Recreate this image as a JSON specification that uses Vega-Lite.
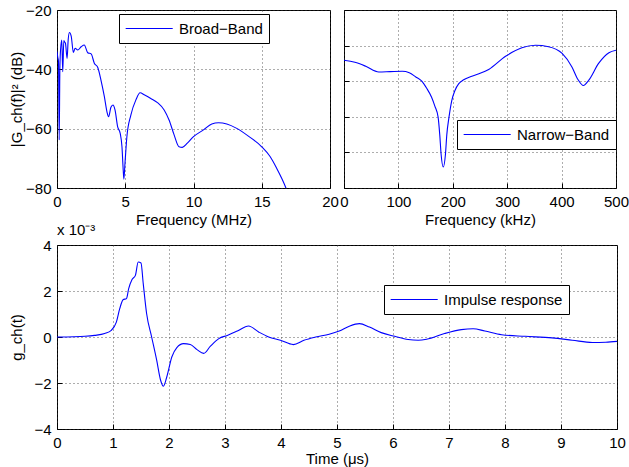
{
  "$schema": "https://vega.github.io/schema/vega-lite/v6.json",
  "background": "white",
  "padding": {"left": 8, "top": 2, "right": 0, "bottom": 2},
  "spacing": -6,
  "resolve": {"scale": {"color": "independent"}, "legend": {"color": "independent"}},
  "config": {
    "font": "Liberation Sans",
    "view": {"stroke": "black", "strokeWidth": 1},
    "axis": {
      "domain": false, "grid": true, "gridColor": "#333", "gridDash": [1, 3], "gridOpacity": 0.8,
      "labelFontSize": 15, "titleFontSize": 15, "titleFontWeight": "normal",
      "labelColor": "black", "titleColor": "black", "tickColor": "black",
      "tickSize": -5, "labelPadding": 11, "labelFlush": false, "labelOverlap": false, "titlePadding": 3
    },
    "axisLeft": {"minExtent": 33, "maxExtent": 33, "titlePadding": 0},
    "legend": {
      "orient": "none", "title": null, "symbolType": "M-1,0H5", "symbolSize": 246, "symbolStrokeWidth": 1.2,
      "labelFontSize": 15, "labelColor": "black", "strokeColor": "black", "fillColor": "white", "padding": 6, "labelOffset": 37
    }
  },
  "vconcat": [
    {
      "hconcat": [
        {
          "width": 273, "height": 178,
          "data": {"values": [
            {"f":0.0,"db":-34.0},{"f":0.06,"db":-36.0},{"f":0.11,"db":-37.4},{"f":0.16,"db":-63.8},{"f":0.21,"db":-40},{"f":0.26,"db":-33.5},{"f":0.35,"db":-30.1},{"f":0.42,"db":-40.8},{"f":0.5,"db":-30.3},{"f":0.56,"db":-30.8},{"f":0.62,"db":-31.2},{"f":0.74,"db":-36.3},{"f":0.82,"db":-30},{"f":0.91,"db":-27.6},{"f":1.04,"db":-28.8},{"f":1.2,"db":-34.3},{"f":1.33,"db":-32.9},{"f":1.52,"db":-33.5},{"f":1.77,"db":-32.4},{"f":2.0,"db":-31.8},{"f":2.25,"db":-34.4},{"f":2.5,"db":-34.8},{"f":2.74,"db":-38.0},{"f":2.98,"db":-39.3},{"f":3.22,"db":-43.6},{"f":3.47,"db":-49.2},{"f":3.66,"db":-54.3},{"f":3.78,"db":-56.0},{"f":3.95,"db":-52.8},{"f":4.1,"db":-52.0},{"f":4.25,"db":-53.7},{"f":4.44,"db":-59.3},{"f":4.63,"db":-61.6},{"f":4.76,"db":-66.1},{"f":4.85,"db":-73.9},{"f":4.9,"db":-77.0},{"f":4.98,"db":-71.7},{"f":5.12,"db":-62.7},{"f":5.41,"db":-55.4},{"f":5.78,"db":-50.3},{"f":6.09,"db":-47.9},{"f":6.39,"db":-48.6},{"f":6.87,"db":-49.8},{"f":7.36,"db":-51.2},{"f":7.85,"db":-53.7},{"f":8.21,"db":-57.1},{"f":8.58,"db":-62.1},{"f":8.94,"db":-66.1},{"f":9.18,"db":-66.3},{"f":9.55,"db":-64.9},{"f":10.0,"db":-62.7},{"f":10.73,"db":-60.4},{"f":11.34,"db":-58.4},{"f":11.83,"db":-58.0},{"f":12.44,"db":-58.4},{"f":13.17,"db":-59.9},{"f":14.02,"db":-62.5},{"f":15.0,"db":-66.1},{"f":15.61,"db":-69.4},{"f":16.1,"db":-73.4},{"f":16.46,"db":-76.7},{"f":16.78,"db":-80.1},{"f":17.0,"db":-83}
          ]},
          "mark": {"type": "line", "clip": true, "strokeWidth": 1.1, "interpolate": "monotone"},
          "encoding": {
            "x": {"field": "f", "type": "quantitative", "scale": {"domain": [0, 20], "nice": false}, "axis": {"values": [0, 5, 10, 15, 20], "title": "Frequency (MHz)"}},
            "y": {"field": "db", "type": "quantitative", "scale": {"domain": [-80, -20], "nice": false}, "axis": {"values": [-80, -60, -40, -20], "title": "|G_ch(f)|² (dB)"}},
            "color": {"datum": "Broad−Band", "type": "nominal", "scale": {"range": ["#0000ff"]}, "legend": {"legendX": 62, "legendY": 4}}
          }
        },
        {
          "width": 272, "height": 178,
          "data": {"values": [
            {"f":0,"db":-24.1},{"f":20,"db":-24.7},{"f":40,"db":-25.8},{"f":64,"db":-27.4},{"f":85,"db":-27.3},{"f":107,"db":-27.2},{"f":120,"db":-27.6},{"f":132,"db":-28.8},{"f":143,"db":-30.0},{"f":152,"db":-32.0},{"f":161,"db":-34.5},{"f":167,"db":-37.0},{"f":173,"db":-40.1},{"f":176,"db":-45},{"f":178.5,"db":-50.5},{"f":182.5,"db":-54.1},{"f":186.5,"db":-50.5},{"f":189,"db":-45},{"f":193,"db":-40.1},{"f":198,"db":-35.5},{"f":204,"db":-32.6},{"f":211,"db":-30.7},{"f":220,"db":-29.6},{"f":235,"db":-28.6},{"f":248,"db":-27.9},{"f":266,"db":-26.7},{"f":297,"db":-23.0},{"f":327,"db":-20.6},{"f":352,"db":-19.9},{"f":376,"db":-20.3},{"f":401,"db":-22.2},{"f":419,"db":-26.0},{"f":430,"db":-29.5},{"f":440,"db":-31.2},{"f":450,"db":-29.7},{"f":468,"db":-25.0},{"f":487,"db":-22.0},{"f":500,"db":-21.3}
          ]},
          "mark": {"type": "line", "clip": true, "strokeWidth": 1.1, "interpolate": "monotone"},
          "encoding": {
            "x": {"field": "f", "type": "quantitative", "scale": {"domain": [0, 500], "nice": false}, "axis": {"values": [0, 100, 200, 300, 400, 500], "title": "Frequency (kHz)"}},
            "y": {"field": "db", "type": "quantitative", "scale": {"domain": [-60, -10], "nice": false}, "axis": {"values": [-60, -50, -40, -30, -20, -10], "labels": false, "title": null, "minExtent": 0, "maxExtent": 0}},
            "color": {"datum": "Narrow−Band", "type": "nominal", "scale": {"range": ["#0000ff"]}, "legend": {"legendX": 113, "legendY": 110}}
          }
        }
      ],
      "spacing": 14,
      "bounds": "flush",
      "resolve": {"scale": {"color": "independent"}, "legend": {"color": "independent"}}
    },
    {
      "width": 560, "height": 184,
      "title": {"text": "x 10⁻³", "anchor": "start", "frame": "group", "fontSize": 15, "fontWeight": "normal", "color": "black", "offset": 0},
      "data": {"values": [
        {"t":0,"g":0},{"t":0.3,"g":0.00001},{"t":0.5,"g":0.00003},{"t":0.67,"g":0.00007},{"t":0.85,"g":0.00015},{"t":0.97,"g":0.00029},{"t":1.06,"g":0.00065},{"t":1.12,"g":0.00123},{"t":1.18,"g":0.00162},{"t":1.24,"g":0.00167},{"t":1.28,"g":0.0021},{"t":1.34,"g":0.0025},{"t":1.40,"g":0.00268},{"t":1.45,"g":0.00326},{"t":1.50,"g":0.00322},{"t":1.54,"g":0.00232},{"t":1.6,"g":0.00102},{"t":1.69,"g":0},{"t":1.78,"g":-0.00101},{"t":1.85,"g":-0.00188},{"t":1.90,"g":-0.00214},{"t":1.96,"g":-0.00174},{"t":2.05,"g":-0.00087},{"t":2.14,"g":-0.00046},{"t":2.26,"g":-0.00029},{"t":2.38,"g":-0.00033},{"t":2.5,"g":-0.00055},{"t":2.62,"g":-0.00071},{"t":2.74,"g":-0.0004},{"t":2.89,"g":-0.00007},{"t":3.04,"g":0.00007},{"t":3.22,"g":0.00026},{"t":3.42,"g":0.00048},{"t":3.6,"g":0.00022},{"t":3.78,"g":0},{"t":3.99,"g":-0.00014},{"t":4.22,"g":-0.00033},{"t":4.41,"g":-0.00014},{"t":4.62,"g":0},{"t":4.86,"g":0.00012},{"t":5.04,"g":0.00026},{"t":5.22,"g":0.00047},{"t":5.4,"g":0.00058},{"t":5.58,"g":0.00043},{"t":5.79,"g":0.00019},{"t":6.03,"g":0.00003},{"t":6.27,"g":-0.00011},{"t":6.45,"g":-0.00014},{"t":6.6,"g":-0.0001},{"t":6.92,"g":0.00015},{"t":7.22,"g":0.00032},{"t":7.43,"g":0.00036},{"t":7.64,"g":0.00026},{"t":7.94,"g":0.0001},{"t":8.36,"g":0.00003},{"t":8.84,"g":-0.00004},{"t":9.2,"g":-0.00014},{"t":9.56,"g":-0.00024},{"t":9.8,"g":-0.00023},{"t":10.0,"g":-0.00019}
      ]},
      "mark": {"type": "line", "clip": true, "strokeWidth": 1.1, "interpolate": "monotone"},
      "encoding": {
        "x": {"field": "t", "type": "quantitative", "scale": {"domain": [0, 10], "nice": false}, "axis": {"values": [0, 1, 2, 3, 4, 5, 6, 7, 8, 9, 10], "title": "Time (μs)", "titlePadding": 1}},
        "y": {"field": "g", "type": "quantitative", "scale": {"domain": [-0.004, 0.004], "nice": false}, "axis": {"values": [-0.004, -0.002, 0, 0.002, 0.004], "labelExpr": "format(datum.value*1000, 'd')", "title": "g_ch(t)"}},
        "color": {"datum": "Impulse response", "type": "nominal", "scale": {"range": ["#0000ff"]}, "legend": {"legendX": 327, "legendY": 40}}
      }
    }
  ]
}
